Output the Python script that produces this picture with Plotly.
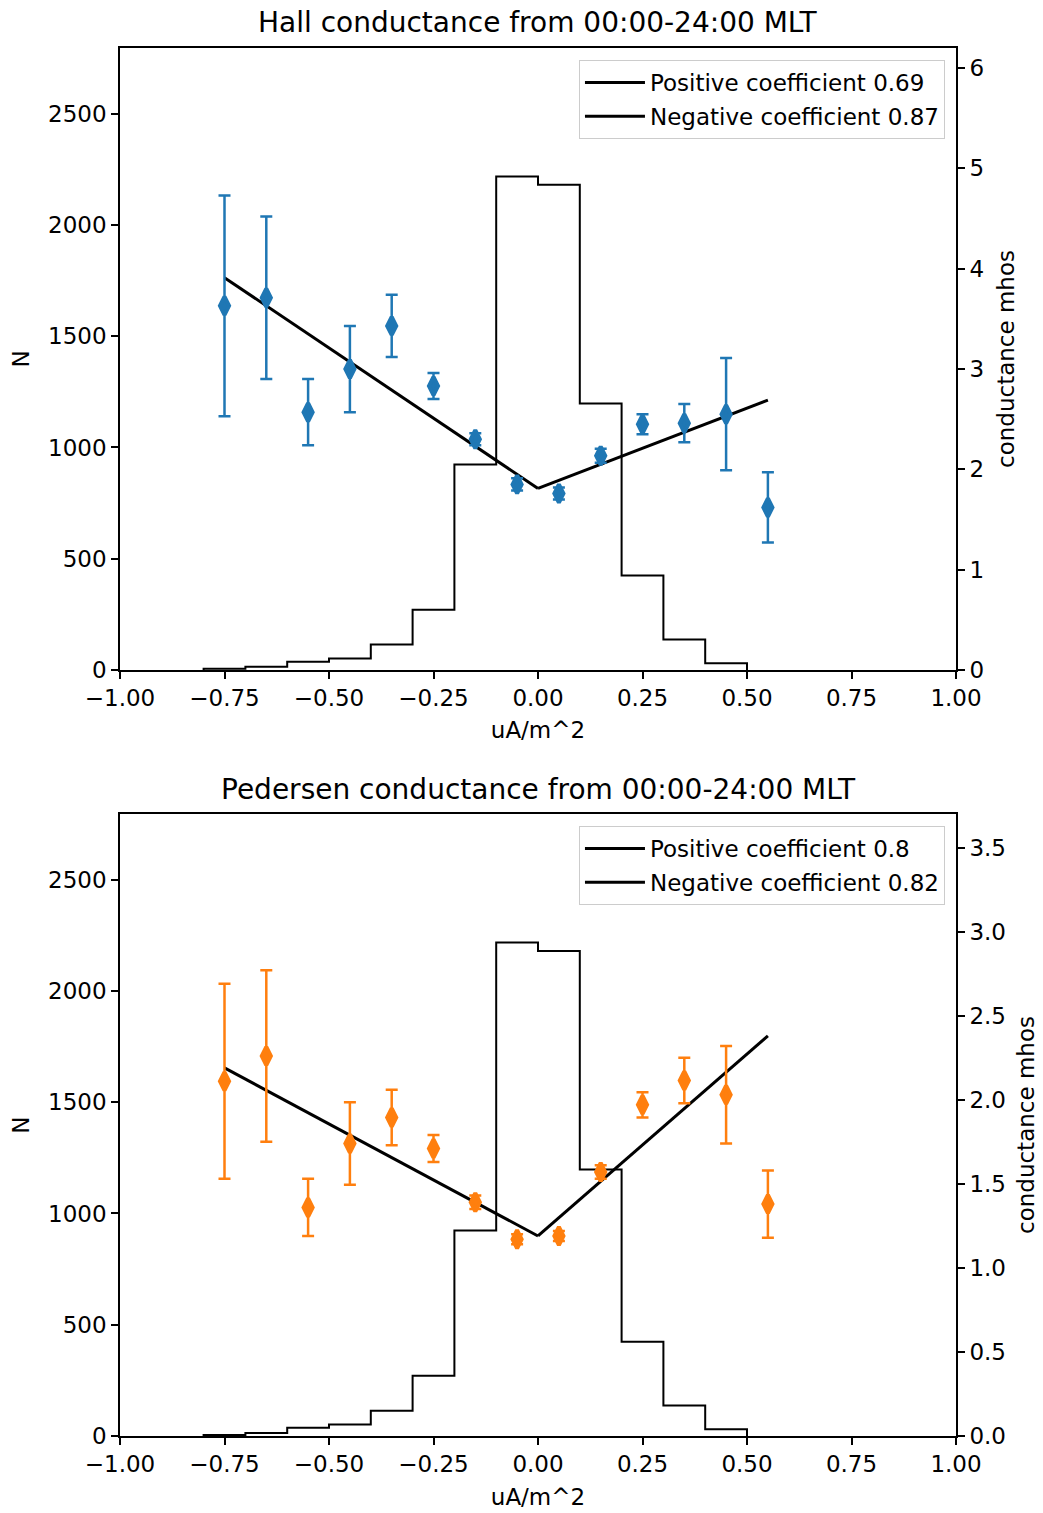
import numpy as np
import plotly.graph_objects as go
from plotly.subplots import make_subplots

# Histogram of current density samples (shared by both panels)
bin_edges = [-0.8, -0.7, -0.6, -0.5, -0.4, -0.3, -0.2, -0.1, 0.0, 0.1, 0.2, 0.3, 0.4, 0.5]
counts = [5, 14, 37, 52, 114, 271, 923, 2218, 2180, 1198, 424, 137, 30]

# Bin centres for the binned conductance means
bin_centres = [-0.75, -0.65, -0.55, -0.45, -0.35, -0.25, -0.15,
               -0.05, 0.05, 0.15, 0.25, 0.35, 0.45, 0.55]

# Hall conductance (mhos): mean and error per bin
hall_mean = [3.63, 3.71, 2.57, 3.00, 3.43, 2.83, 2.30, 1.85, 1.76, 2.135, 2.45, 2.46, 2.55, 1.62]
hall_err = [1.10, 0.81, 0.33, 0.43, 0.31, 0.13, 0.06, 0.06, 0.06, 0.07, 0.10, 0.19, 0.56, 0.35]
hall_neg_fit_x = [-0.75, 0.0]
hall_neg_fit_y = [3.91, 1.81]
hall_pos_fit_x = [0.0, 0.55]
hall_pos_fit_y = [1.81, 2.69]
hall_pos_coef = "0.69"
hall_neg_coef = "0.87"

# Pedersen conductance (mhos): mean and error per bin
ped_mean = [2.11, 2.26, 1.36, 1.74, 1.895, 1.71, 1.39, 1.17, 1.19, 1.57, 1.97, 2.115, 2.03, 1.38]
ped_err = [0.58, 0.51, 0.17, 0.245, 0.165, 0.08, 0.04, 0.03, 0.03, 0.04, 0.075, 0.135, 0.29, 0.20]
ped_neg_fit_x = [-0.75, 0.0]
ped_neg_fit_y = [2.19, 1.19]
ped_pos_fit_x = [0.0, 0.55]
ped_pos_fit_y = [1.19, 2.38]
ped_pos_coef = "0.8"
ped_neg_coef = "0.82"

# Axis ticks
x_tick_vals = [-1.0, -0.75, -0.5, -0.25, 0.0, 0.25, 0.5, 0.75, 1.0]
x_tick_text = ["\u22121.00", "\u22120.75", "\u22120.50", "\u22120.25", "0.00", "0.25", "0.50", "0.75", "1.00"]
n_tick_vals = [0, 500, 1000, 1500, 2000, 2500]
hall_tick_vals = [0, 1, 2, 3, 4, 5, 6]
ped_tick_vals = [0.0, 0.5, 1.0, 1.5, 2.0, 2.5, 3.0, 3.5]

FONT = "DejaVu Sans"
FS = 23
BLUE = "#1f77b4"
ORANGE = "#ff7f0e"

fig = make_subplots(rows=2, cols=1,
                    specs=[[{"secondary_y": True}], [{"secondary_y": True}]])

# Step outline of the histogram, closed down to the baseline at both ends
step_x = np.concatenate([[bin_edges[0]], bin_edges])
step_y = np.concatenate([[0], counts, [0]])

panels = [
    (1, "legend", hall_mean, hall_err, BLUE,
     hall_pos_fit_x, hall_pos_fit_y, hall_neg_fit_x, hall_neg_fit_y,
     hall_pos_coef, hall_neg_coef),
    (2, "legend2", ped_mean, ped_err, ORANGE,
     ped_pos_fit_x, ped_pos_fit_y, ped_neg_fit_x, ped_neg_fit_y,
     ped_pos_coef, ped_neg_coef),
]

for (row, leg, mean, err, colour, px_, py_, nx_, ny_, pc, nc) in panels:
    fig.add_trace(go.Scatter(x=step_x, y=step_y, mode="lines", line_shape="hv",
                             line=dict(color="black", width=2), showlegend=False,
                             hoverinfo="skip"),
                  row=row, col=1, secondary_y=False)
    fig.add_trace(go.Scatter(x=px_, y=py_, mode="lines",
                             line=dict(color="black", width=3),
                             name="Positive coefficient " + pc, legend=leg,
                             legendgroup=f"pos{row}"),
                  row=row, col=1, secondary_y=True)
    fig.add_trace(go.Scatter(x=nx_, y=ny_, mode="lines",
                             line=dict(color="black", width=3),
                             name="Negative coefficient " + nc, legend=leg,
                             legendgroup=f"neg{row}"),
                  row=row, col=1, secondary_y=True)
    fig.add_trace(go.Scatter(x=bin_centres, y=mean, mode="markers",
                             marker=dict(symbol="diamond-tall", size=13, color=colour,
                                         line=dict(color=colour, width=4)),
                             error_y=dict(type="data", array=err, visible=True,
                                          color=colour, thickness=2.5, width=6),
                             showlegend=False),
                  row=row, col=1, secondary_y=True)

axis_common = dict(showline=True, linecolor="black", linewidth=1.6,
                   ticks="outside", ticklen=7, tickwidth=1.6, tickcolor="black",
                   showgrid=False, zeroline=False, automargin=False,
                   tickfont=dict(family=FONT, size=FS, color="black"))

title_font = dict(family=FONT, size=FS, color="black")

top_dom = [0.5519, 1.0]
bot_dom = [0.0, 0.4481]

for row, dom in [(1, top_dom), (2, bot_dom)]:
    fig.update_xaxes(row=row, col=1, domain=[0.0, 1.0], range=[-1, 1],
                     tickvals=x_tick_vals, ticktext=x_tick_text, mirror=True,
                     title=dict(text="uA/m^2", font=title_font, standoff=12),
                     **axis_common)
    fig.update_yaxes(row=row, col=1, secondary_y=False, domain=dom,
                     range=[0, 2795], tickvals=n_tick_vals,
                     title=dict(text="N", font=title_font, standoff=12),
                     **axis_common)

fig.update_yaxes(row=1, col=1, secondary_y=True, domain=top_dom, range=[0, 6.2],
                 tickvals=hall_tick_vals, side="right",
                 title=dict(text="conductance mhos", font=title_font, standoff=15),
                 **axis_common)
fig.update_yaxes(row=2, col=1, secondary_y=True, domain=bot_dom, range=[0, 3.70],
                 tickvals=ped_tick_vals, tickformat=".1f", side="right",
                 title=dict(text="conductance mhos", font=title_font, standoff=13),
                 **axis_common)

legend_style = dict(xanchor="right", yanchor="top", bgcolor="rgba(255,255,255,0.8)",
                    bordercolor="#cccccc", borderwidth=1, tracegroupgap=1,
                    traceorder="grouped", itemwidth=60,
                    font=dict(family=FONT, size=FS, color="black"))

fig.update_layout(
    width=1043, height=1513,
    margin=dict(l=120, r=87, t=48, b=77, autoexpand=False),
    plot_bgcolor="white", paper_bgcolor="white",
    font=dict(family=FONT, size=FS, color="black"),
    legend=dict(x=0.9868, y=0.9914, **legend_style),
    legend2=dict(x=0.9868, y=0.4395, **legend_style),
    annotations=[
        dict(text="Hall conductance from 00:00-24:00 MLT", xref="paper", yref="paper",
             x=0.5, y=1.0187, xanchor="center", yanchor="middle", showarrow=False,
             font=dict(family=FONT, size=28, color="black")),
        dict(text="Pedersen conductance from 00:00-24:00 MLT", xref="paper", yref="paper",
             x=0.5, y=0.4661, xanchor="center", yanchor="middle", showarrow=False,
             font=dict(family=FONT, size=28, color="black")),
    ],
)

fig.write_html("out.html")
